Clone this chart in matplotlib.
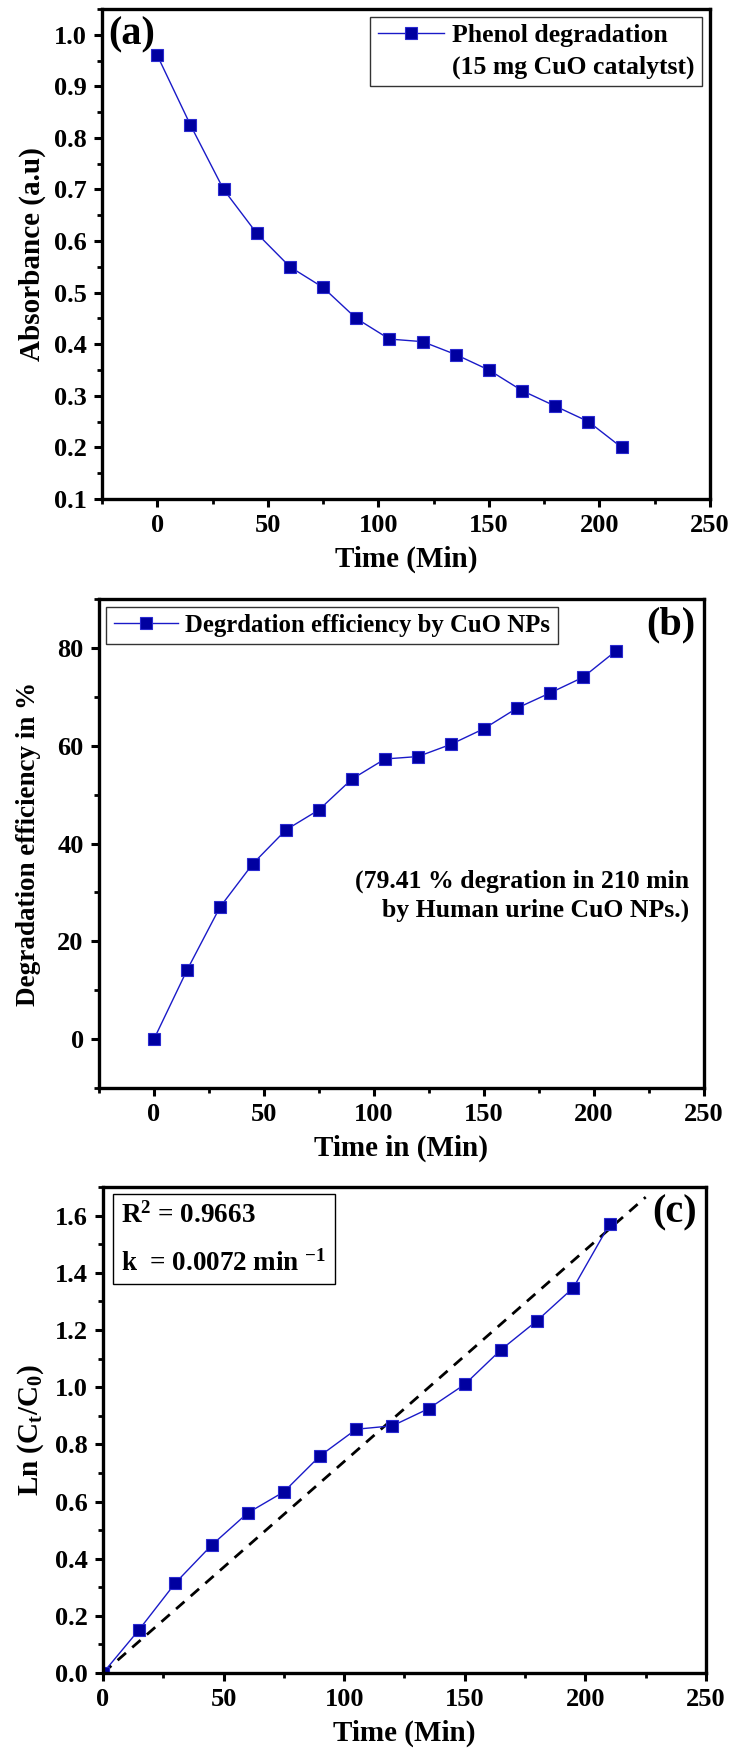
import numpy as np
import matplotlib
matplotlib.use("Agg")
import matplotlib.pyplot as plt
from matplotlib.ticker import MultipleLocator, FormatStrFormatter
from matplotlib.patches import Patch

plt.rcParams["font.family"] = ["Liberation Serif", "DejaVu Serif"]
plt.rcParams["font.weight"] = "bold"
plt.rcParams["axes.labelweight"] = "bold"
plt.rcParams["mathtext.fontset"] = "custom"
plt.rcParams["mathtext.rm"] = "Liberation Serif:bold"
plt.rcParams["mathtext.it"] = "Liberation Serif:bold"
plt.rcParams["mathtext.bf"] = "Liberation Serif:bold"
plt.rcParams["mathtext.default"] = "rm"

# sampling times (min)
time = [0, 15, 30, 45, 60, 75, 90, 105, 120, 135, 150, 165, 180, 195, 210]

# (a) absorbance
absorbance = [0.96, 0.825, 0.70, 0.615, 0.55, 0.51, 0.45, 0.41, 0.405,
              0.38, 0.35, 0.31, 0.28, 0.25, 0.20]

# (b) degradation efficiency, %
efficiency = [0, 14.1, 27.0, 35.9, 42.8, 46.9, 53.2, 57.3, 57.8,
              60.3, 63.5, 67.7, 70.8, 74.0, 79.41]

# (c) ln(Ct/C0) and linear fit line
ln_ratio = [0, 0.152, 0.315, 0.447, 0.560, 0.634, 0.760, 0.853, 0.865,
            0.925, 1.010, 1.131, 1.233, 1.348, 1.570]
fit_x = [0, 225]
fit_y = [0, 1.665]

line_col = "#1a1ac8"
mark_col = "#0000a0"

fig = plt.figure(figsize=(7.43, 17.6), dpi=100)
ax_a = fig.add_axes([0.1373, 0.7165, 0.8183, 0.2784])
ax_b = fig.add_axes([0.1332, 0.3818, 0.8143, 0.2778])
ax_c = fig.add_axes([0.1386, 0.0494, 0.8116, 0.2761])


def style(ax, ymaj, ymin):
    for s in ax.spines.values():
        s.set_linewidth(2.4)
    ax.xaxis.set_major_locator(MultipleLocator(50))
    ax.xaxis.set_minor_locator(MultipleLocator(25))
    ax.yaxis.set_major_locator(MultipleLocator(ymaj))
    ax.yaxis.set_minor_locator(MultipleLocator(ymin))
    ax.tick_params(which="major", direction="out", length=6, width=2.2,
                   labelsize=19, pad=5)
    ax.tick_params(which="minor", direction="out", length=3.5, width=2.0)
    ax.tick_params(top=False, right=False)


def series(ax, y, label=None):
    return ax.plot(time, y, color=line_col, lw=1.0, marker="s", ms=8,
                   mfc=mark_col, mec="#2a2ad0", mew=0.8, label=label)[0]


def boxed_legend(ax, handles, labels, loc, size):
    leg = ax.legend(handles, labels, loc=loc, fontsize=size, frameon=True,
                    fancybox=False, edgecolor="black", borderpad=0.3,
                    handlelength=2.6, handletextpad=0.3, borderaxespad=0.3,
                    labelspacing=0.3)
    leg.get_frame().set_linewidth(1.0)
    return leg


# (a)
h = series(ax_a, absorbance)
ax_a.set_xlim(-25, 250)
ax_a.set_ylim(0.1, 1.05)
style(ax_a, 0.1, 0.05)
ax_a.yaxis.set_major_formatter(FormatStrFormatter("%.1f"))
ax_a.set_xlabel("Time (Min)", fontsize=21, labelpad=6)
ax_a.set_ylabel("Absorbance (a.u)", fontsize=21, labelpad=6)
ax_a.text(0.01, 0.985, "(a)", transform=ax_a.transAxes, fontsize=29,
          ha="left", va="top")
blank = Patch(facecolor="none", edgecolor="none")
boxed_legend(ax_a, [h, blank],
             ["Phenol degradation", "(15 mg CuO catalytst)"],
             "upper right", 18.5)

# (b)
h = series(ax_b, efficiency)
ax_b.set_xlim(-25, 250)
ax_b.set_ylim(-10, 90)
style(ax_b, 20, 10)
ax_b.set_xlabel("Time in (Min)", fontsize=21, labelpad=6)
ax_b.set_ylabel("Degradation efficiency in %", fontsize=19.5, labelpad=12)
ax_b.text(0.985, 0.985, "(b)", transform=ax_b.transAxes, fontsize=29,
          ha="right", va="top")
ax_b.text(0.975, 0.393, "(79.41 % degration in 210 min\nby Human urine CuO NPs.)",
          transform=ax_b.transAxes, fontsize=18.5, ha="right", va="center",
          multialignment="right", linespacing=1.35)
boxed_legend(ax_b, [h], ["Degrdation efficiency by CuO NPs"], "upper left", 17.8)

# (c)
ax_c.plot(fit_x, fit_y, color="black", lw=2.0, ls=(0, (4, 3)))
series(ax_c, ln_ratio)
ax_c.set_xlim(0, 250)
ax_c.set_ylim(0, 1.7)
style(ax_c, 0.2, 0.1)
ax_c.yaxis.set_major_formatter(FormatStrFormatter("%.1f"))
ax_c.set_xlabel("Time (Min)", fontsize=21, labelpad=6)
ax_c.set_ylabel("Ln (C$_t$/C$_0$)", fontsize=21, labelpad=6)
ax_c.text(0.985, 0.985, "(c)", transform=ax_c.transAxes, fontsize=29,
          ha="right", va="top")
ax_c.text(0.03, 0.97, "R$^\\mathregular{2}$ = 0.9663\nk  = 0.0072 min $^{-1}$",
          transform=ax_c.transAxes, fontsize=19.5, ha="left", va="top",
          linespacing=2.05,
          bbox=dict(boxstyle="square,pad=0.3", fc="white", ec="black", lw=1.0))

fig.savefig("out.png", dpi=100)
